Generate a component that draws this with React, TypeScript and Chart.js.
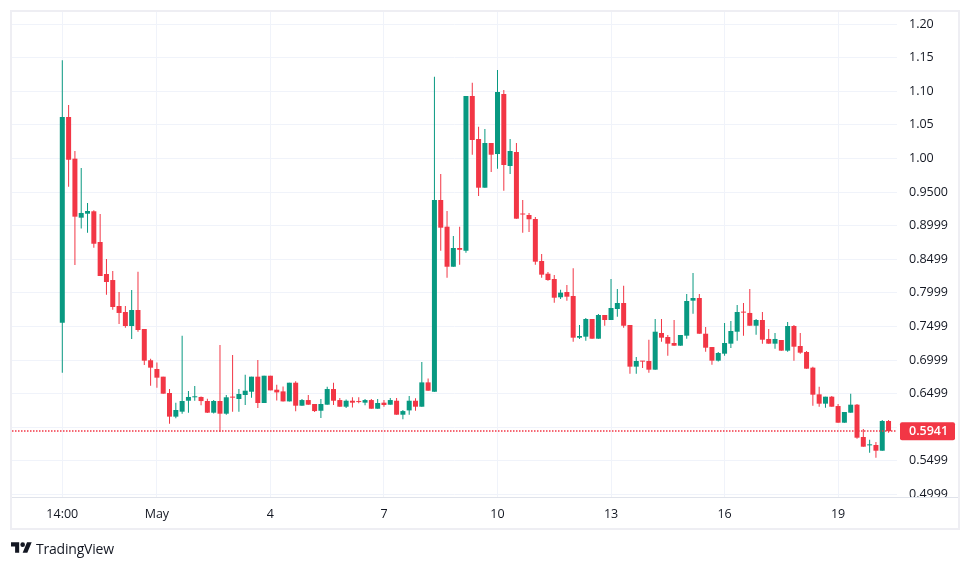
import React, { useEffect, useRef } from 'react';
import { Chart, registerables } from 'chart.js';

Chart.register(...registerables);

// ---- data (4h candles) ----
const opens = [
  0.7556, 1.0616, 0.9996, 0.9118, 0.9177, 0.9213, 0.8756, 0.828, 0.819, 0.7804,
  0.7714, 0.7506, 0.7744, 0.7461, 0.6996, 0.6866, 0.6752, 0.6509, 0.6157, 0.6231,
  0.6394, 0.6445, 0.645, 0.639, 0.6216, 0.639, 0.6201, 0.6445, 0.642, 0.6479,
  0.6528, 0.6752, 0.636, 0.6766, 0.6558, 0.6533, 0.6384, 0.6662, 0.632, 0.6404,
  0.6345, 0.6245, 0.6335, 0.6568, 0.6404, 0.6305, 0.6394, 0.6379, 0.6365, 0.6404,
  0.6275, 0.6365, 0.6335, 0.6394, 0.6186, 0.625, 0.6394, 0.6305, 0.6667, 0.6528,
  0.9381, 0.8984, 0.8388, 0.8667, 0.8627, 1.0929, 1.0289, 0.9564, 1.0229, 1.0065,
  1.0958, 0.9887, 1.0095, 0.917, 0.9158, 0.9098, 0.8473, 0.8284, 0.8205, 0.7933,
  0.8012, 0.7952, 0.7332, 0.7347, 0.761, 0.7317, 0.767, 0.7595, 0.7759, 0.7848,
  0.7521, 0.6901, 0.6985, 0.6985, 0.6856, 0.7402, 0.7342, 0.7253, 0.7213, 0.7362,
  0.7883, 0.7923, 0.7391, 0.7193, 0.699, 0.7094, 0.7243, 0.7421, 0.7714, 0.77,
  0.751, 0.7595, 0.7313, 0.7243, 0.7298, 0.7139, 0.7506, 0.7208, 0.7119, 0.6886,
  0.6489, 0.635, 0.6454, 0.6315, 0.6067, 0.6216, 0.6335, 0.5854, 0.573, 0.5735,
  0.565, 0.6092,
];
const highs = [
  1.146, 1.0795, 1.011, 0.9857, 0.9336, 0.9228, 0.9173, 0.8503, 0.8324, 0.8012,
  0.7804, 0.8042, 0.8314, 0.7461, 0.702, 0.6961, 0.6752, 0.6568, 0.6365, 0.7362,
  0.6539, 0.6613, 0.6455, 0.6424, 0.6405, 0.7223, 0.6479, 0.7074, 0.6568, 0.6781,
  0.6752, 0.70, 0.6766, 0.6766, 0.6632, 0.6607, 0.6662, 0.6682, 0.6419, 0.6479,
  0.6345, 0.6419, 0.6603, 0.6662, 0.6434, 0.6414, 0.6444, 0.6444, 0.6419, 0.6419,
  0.6419, 0.6404, 0.6434, 0.6434, 0.6255, 0.6464, 0.6429, 0.697, 0.6726, 1.1216,
  0.9768, 0.9217, 0.8845, 0.8984, 1.0929, 1.1127, 1.0472, 1.0438, 1.0229, 1.1315,
  1.1018, 1.0289, 1.0229, 0.9381, 0.9188, 0.9128, 0.8577, 0.8309, 0.8264, 0.8047,
  0.8116, 0.8365, 0.7521, 0.7625, 0.761, 0.7685, 0.767, 0.8205, 0.8057, 0.8106,
  0.7521, 0.7044, 0.6985, 0.7302, 0.761, 0.761, 0.7372, 0.7595, 0.7372, 0.7982,
  0.8295, 0.7982, 0.7491, 0.7193, 0.7119, 0.7551, 0.758, 0.7818, 0.7848, 0.8057,
  0.761, 0.7714, 0.7461, 0.7402, 0.7298, 0.7566, 0.7521, 0.7402, 0.7134, 0.69,
  0.6603, 0.6454, 0.6464, 0.6345, 0.6226, 0.6499, 0.6345, 0.5973, 0.5814, 0.578,
  0.6107, 0.6107,
];
const lows = [
  0.681, 0.958, 0.8414, 0.8955, 0.8894, 0.8671, 0.825, 0.7972, 0.7749, 0.7536,
  0.7481, 0.7313, 0.7421, 0.6926, 0.6618, 0.6588, 0.6499, 0.6052, 0.6132, 0.6201,
  0.6216, 0.6394, 0.6326, 0.6211, 0.6205, 0.5929, 0.6186, 0.6231, 0.6231, 0.633,
  0.644, 0.6285, 0.636, 0.6548, 0.6399, 0.6384, 0.6384, 0.6236, 0.632, 0.6335,
  0.6226, 0.6137, 0.6335, 0.633, 0.6305, 0.6285, 0.6295, 0.6355, 0.6325, 0.6275,
  0.6275, 0.6305, 0.6335, 0.6186, 0.6117, 0.6186, 0.6245, 0.6305, 0.6543, 0.6528,
  0.8627, 0.8225, 0.8388, 0.8418, 0.8597, 1.0055, 0.944, 0.9564, 0.9798, 0.9847,
  0.952, 0.9768, 0.9103, 0.8894, 0.8905, 0.8418, 0.8225, 0.818, 0.7853, 0.7908,
  0.7883, 0.7273, 0.7313, 0.7287, 0.7317, 0.7317, 0.751, 0.7595, 0.7644, 0.7481,
  0.6796, 0.6796, 0.6881, 0.6811, 0.6856, 0.7273, 0.7064, 0.7213, 0.7213, 0.7317,
  0.769, 0.7391, 0.7124, 0.6931, 0.6976, 0.7064, 0.7179, 0.7287, 0.7362, 0.751,
  0.7377, 0.7243, 0.7243, 0.7168, 0.7139, 0.7124, 0.699, 0.7094, 0.6871, 0.632,
  0.6305, 0.629, 0.6305, 0.6067, 0.6067, 0.6216, 0.5829, 0.571, 0.562, 0.5546,
  0.565, 0.5918,
];
const closes = [
  1.0616, 0.998, 0.9133, 0.9188, 0.9217, 0.873, 0.825, 0.8161, 0.7789, 0.77,
  0.7506, 0.7744, 0.7446, 0.699, 0.6886, 0.6737, 0.6499, 0.6157, 0.6256, 0.639,
  0.645, 0.645, 0.6389, 0.6216, 0.639, 0.6201, 0.6445, 0.644, 0.6494, 0.6543,
  0.6752, 0.636, 0.6766, 0.6548, 0.6518, 0.6384, 0.6662, 0.632, 0.6404, 0.6335,
  0.624, 0.6345, 0.6568, 0.6394, 0.6305, 0.6394, 0.6365, 0.6374, 0.6404, 0.6275,
  0.636, 0.633, 0.6404, 0.6186, 0.624, 0.6394, 0.6305, 0.6667, 0.6543, 0.9381,
  0.8969, 0.8388, 0.8667, 0.864, 1.0929, 1.0274, 0.9564, 1.0229, 1.0055, 1.0988,
  0.9902, 1.011, 0.9103, 0.9165, 0.9094, 0.8463, 0.827, 0.819, 0.7927, 0.8002,
  0.7942, 0.7332, 0.7357, 0.761, 0.7317, 0.767, 0.7595, 0.7774, 0.7848, 0.751,
  0.6901, 0.6985, 0.6976, 0.6856, 0.7421, 0.7332, 0.7243, 0.7213, 0.7372, 0.7878,
  0.7923, 0.7391, 0.7183, 0.699, 0.7104, 0.7253, 0.7432, 0.7714, 0.7705, 0.751,
  0.7595, 0.7302, 0.7243, 0.7313, 0.7139, 0.7506, 0.7198, 0.7109, 0.6871, 0.6484,
  0.635, 0.6454, 0.6305, 0.6067, 0.6226, 0.6335, 0.5844, 0.571, 0.5735, 0.565,
  0.6092, 0.5941,
];

// time axis: candle index of each labelled tick
const timeTickIndex = [0, 15, 33, 51, 69, 87, 105, 123];
const timeTickLabels = ['14:00', 'May', '4', '7', '10', '13', '16', '19'];

// price axis ticks
const priceTicks = [0.4999, 0.5499, 0.5999, 0.6499, 0.6999, 0.7499, 0.7999, 0.8499, 0.8999, 0.95, 1.0, 1.05, 1.1, 1.15, 1.2];
const lastPrice = 0.5941;

const UP = '#089981';
const DOWN = '#f23645';
const GRID = '#f0f3fa';
const TEXT = '#131722';
const FONT = "'Open Sans', Roboto, sans-serif";

const fmtPrice = (v: number) => (v >= 1 ? v.toFixed(2) : v.toFixed(4));

const lastPricePlugin = {
  id: 'lastPrice',
  afterDatasetsDraw(chart: any) {
    const { ctx, chartArea, scales } = chart;
    const y = Math.round(scales.y.getPixelForValue(lastPrice));
    ctx.save();
    ctx.strokeStyle = DOWN;
    ctx.lineWidth = 1.5;
    ctx.setLineDash([1.5, 1.5]);
    ctx.beginPath();
    ctx.moveTo(Math.round(chartArea.left), y);
    ctx.lineTo(Math.round(chartArea.right), y);
    ctx.stroke();
    ctx.restore();
  },
  afterDraw(chart: any) {
    const { ctx, chartArea, scales } = chart;
    const y = scales.y.getPixelForValue(lastPrice);
    const x = chartArea.right + 3;
    const w = 55;
    const h = 18;
    ctx.save();
    ctx.fillStyle = DOWN;
    ctx.beginPath();
    if (ctx.roundRect) ctx.roundRect(x, y - h / 2, w, h, 2);
    else ctx.rect(x, y - h / 2, w, h);
    ctx.fill();
    ctx.fillStyle = '#ffffff';
    ctx.font = `600 12.5px ${FONT}`;
    ctx.textAlign = 'left';
    ctx.textBaseline = 'middle';
    ctx.fillText(fmtPrice(lastPrice), chartArea.right + 12, y + 0.5);
    ctx.restore();
  },
};

export default function App() {
  const ref = useRef<HTMLCanvasElement>(null);

  useEffect(() => {
    if (!ref.current) return;
    const idx = closes.map((_, i) => i);
    const colors = closes.map((c, i) => (c >= opens[i] ? UP : DOWN));
    const chart = new Chart(ref.current, {
      type: 'bar',
      data: {
        datasets: [
          {
            label: 'wick',
            data: idx.map((i) => ({ x: i, y: [lows[i], highs[i]] })) as any,
            backgroundColor: colors,
            barThickness: 1,
            grouped: false,
            order: 2,
            inflateAmount: 0,
            borderWidth: 0,
          } as any,
          {
            label: 'body',
            data: idx.map((i) => ({ x: i, y: [opens[i], closes[i]] })) as any,
            backgroundColor: colors,
            barThickness: 5,
            minBarLength: 1,
            grouped: false,
            order: 1,
            inflateAmount: 0,
            borderWidth: 0,
          } as any,
        ],
      },
      options: {
        responsive: false,
        animation: false,
        layout: { padding: { left: 12, top: 12, right: 12, bottom: 40 } },
        plugins: { legend: { display: false }, tooltip: { enabled: false } },
        scales: {
          x: {
            type: 'linear',
            min: -7.975,
            max: 132.34,
            offset: false,
            grid: { color: GRID, drawTicks: false, offset: false, lineWidth: 1 },
            border: { display: false },
            afterBuildTicks: (s: any) => {
              s.ticks = timeTickIndex.map((v) => ({ value: v }));
            },
            afterFit: (s: any) => {
              s.height = 31;
              s.paddingLeft = 0;
              s.paddingRight = 0;
            },
            ticks: {
              autoSkip: false,
              maxRotation: 0,
              padding: 10,
              color: TEXT,
              font: { family: FONT, size: 12.5 },
              callback: (v: any) => {
                const k = timeTickIndex.indexOf(Number(v));
                return k >= 0 ? timeTickLabels[k] : '';
              },
            },
          },
          y: {
            type: 'linear',
            position: 'right',
            min: 0.49613,
            max: 1.21786,
            grid: { color: GRID, drawTicks: false, lineWidth: 1 },
            border: { display: false },
            afterBuildTicks: (s: any) => {
              s.ticks = priceTicks.map((v) => ({ value: v }));
            },
            afterFit: (s: any) => {
              s.width = 61;
              s.paddingTop = 0;
              s.paddingBottom = 0;
            },
            ticks: {
              padding: 12,
              color: TEXT,
              font: { family: FONT, size: 12.5 },
              callback: (v: any) => {
                const n = Number(v);
                if (Math.abs(n - lastPrice) < 0.015) return '';
                return fmtPrice(n);
              },
            },
          },
        },
      } as any,
      plugins: [lastPricePlugin],
    });
    return () => chart.destroy();
  }, []);

  return (
    <div style={{ position: 'absolute', left: 0, top: 0, width: 970, height: 568, background: '#fff', overflow: 'hidden' }}>
      <canvas ref={ref} width={970} height={568} style={{ position: 'absolute', left: 0, top: 0, width: 970, height: 568 }} />
      {/* cover below price axis (clips the lowest price label like the original) */}
      <div style={{ position: 'absolute', left: 898, top: 498, width: 60, height: 30, background: '#fff' }} />
      {/* separator between plot and time axis */}
      <div style={{ position: 'absolute', left: 10, top: 497, width: 950, height: 1, background: '#e0e3eb' }} />
      {/* frame */}
      <div
        style={{
          position: 'absolute',
          left: 10,
          top: 10,
          width: 950,
          height: 520,
          boxSizing: 'border-box',
          border: '2px solid #eeeef3',
          pointerEvents: 'none',
        }}
      />
      {/* TradingView attribution */}
      <div style={{ position: 'absolute', left: 11, top: 538, display: 'flex', alignItems: 'center', height: 20 }}>
        <svg width="21" height="16.3" viewBox="0 0 36 28" style={{ display: 'block' }}>
          <path d="M14 22H7V11H0V4h14v18ZM28 22h-8l7.5-18h8L28 22Z" fill={TEXT} />
          <circle cx="20" cy="8" r="4" fill={TEXT} />
        </svg>
        <span style={{ marginLeft: 4, fontFamily: FONT, fontSize: 14, color: TEXT, letterSpacing: -0.2 }}>TradingView</span>
      </div>
    </div>
  );
}
